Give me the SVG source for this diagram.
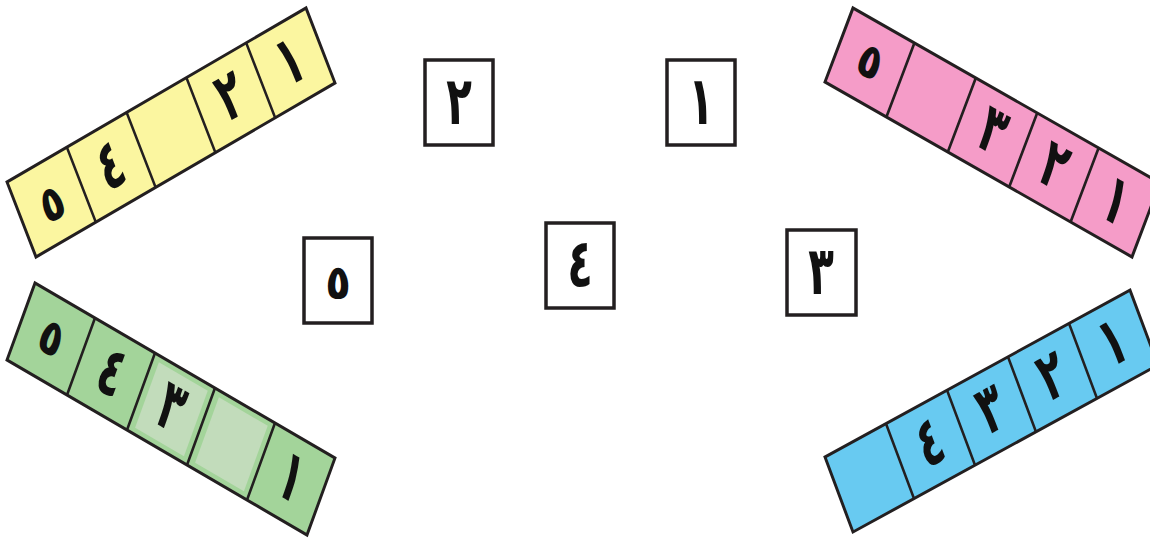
<svg xmlns="http://www.w3.org/2000/svg" width="1150" height="538" viewBox="0 0 1150 538">
<style>
.strip{stroke:#231f20;stroke-width:3;stroke-linejoin:miter}
.div{stroke:#231f20;stroke-width:2.6;fill:none}
.card{fill:#fff;stroke:#231f20;stroke-width:3.5}
.d{font-family:"DejaVu Sans",sans-serif;font-weight:bold;font-size:42px;fill:#111;text-anchor:middle}
</style>
<rect width="1150" height="538" fill="#fff"/>
<g id="strip-yellow" transform="matrix(0.8543 -0.4971 0.3625 0.9375 7 182)">
<rect class="strip" x="0" y="0" width="350" height="80" fill="#fbf6a0"/>
<path class="div" d="M70 0V80M140 0V80M210 0V80M280 0V80"/>
<g transform="translate(35 58) scale(1 1.15)"><text class="d">٥</text></g>
<g transform="translate(105 60) scale(1 1.6)"><text class="d">٤</text></g>
<g transform="translate(245 60) scale(1 1.6)"><text class="d">٢</text></g>
<g transform="translate(315 60) scale(1 1.6)"><text class="d">١</text></g>
</g>
<g id="strip-pink" transform="matrix(0.8771 0.5 -0.35 0.925 853 8)">
<rect class="strip" x="0" y="0" width="350" height="80" fill="#f59cc8"/>
<path class="div" d="M70 0V80M140 0V80M210 0V80M280 0V80"/>
<g transform="translate(35 55) scale(1 1.15)"><text class="d">٥</text></g>
<g transform="translate(175 60) scale(1 1.6)"><text class="d">٣</text></g>
<g transform="translate(245 60) scale(1 1.6)"><text class="d">٢</text></g>
<g transform="translate(315 60) scale(1 1.6)"><text class="d">١</text></g>
</g>
<g id="strip-green" transform="matrix(0.8571 0.5 -0.35 0.9625 35 283)">
<rect class="strip" x="0" y="0" width="350" height="80" fill="#a3d49a"/>
<rect x="147" y="6" width="57" height="68" fill="#c2dcbb"/>
<rect x="217" y="6" width="57" height="68" fill="#c2dcbb"/>
<path class="div" d="M70 0V80M140 0V80M210 0V80M280 0V80"/>
<g transform="translate(35 55) scale(1 1.15)"><text class="d">٥</text></g>
<g transform="translate(105 60) scale(1 1.6)"><text class="d">٤</text></g>
<g transform="translate(175 60) scale(1 1.6)"><text class="d">٣</text></g>
<g transform="translate(315 60) scale(1 1.6)"><text class="d">١</text></g>
</g>
<g id="strip-blue" transform="matrix(0.8714 -0.4771 0.35 0.9375 825 457)">
<rect class="strip" x="0" y="0" width="350" height="80" fill="#68caf1"/>
<path class="div" d="M70 0V80M140 0V80M210 0V80M280 0V80"/>
<g transform="translate(105 60) scale(1 1.6)"><text class="d">٤</text></g>
<g transform="translate(175 60) scale(1 1.6)"><text class="d">٣</text></g>
<g transform="translate(245 60) scale(1 1.6)"><text class="d">٢</text></g>
<g transform="translate(315 60) scale(1 1.6)"><text class="d">١</text></g>
</g>
<g id="card-2"><rect class="card" x="425" y="60" width="68" height="85"/><g transform="translate(459 124) scale(1 1.6)"><text class="d">٢</text></g></g>
<g id="card-1"><rect class="card" x="667" y="60" width="68" height="85"/><g transform="translate(701 124) scale(1 1.6)"><text class="d">١</text></g></g>
<g id="card-5"><rect class="card" x="304" y="238" width="68" height="85"/><g transform="translate(338 299) scale(1 1.15)"><text class="d">٥</text></g></g>
<g id="card-4"><rect class="card" x="546" y="223" width="68" height="85"/><g transform="translate(580 287) scale(1 1.6)"><text class="d">٤</text></g></g>
<g id="card-3"><rect class="card" x="787" y="230" width="69" height="85"/><g transform="translate(821 294) scale(1 1.6)"><text class="d">٣</text></g></g>
</svg>
